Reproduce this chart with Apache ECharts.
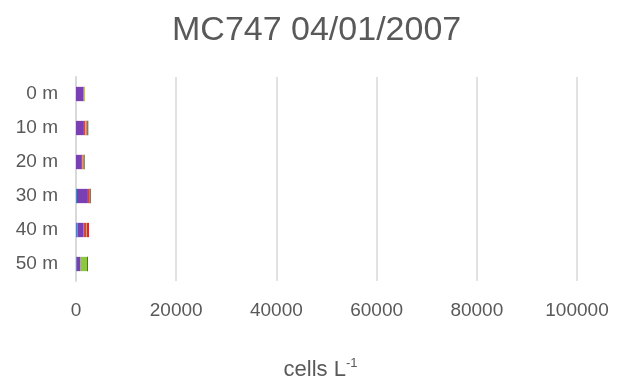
<!DOCTYPE html>
<html>
<head>
<meta charset="utf-8">
<script src="https://cdn.jsdelivr.net/npm/echarts@6/dist/echarts.min.js"></script>
<style>
  html, body { margin: 0; padding: 0; background: #fff; }
  #chart { width: 617px; height: 380px; }
</style>
</head>
<body>
<div id="chart"></div>
<script>
// Depths sampled at station MC747
const depths = ['0 m', '10 m', '20 m', '30 m', '40 m', '50 m'];

// Cell counts (cells per litre) for each group, stacked per depth
const groupA = [0, 0, 0, 200, 300, 100];
const groupB = [1400, 1400, 1000, 2000, 1200, 800];
const groupC = [150, 400, 300, 500, 600, 0];
const groupD = [150, 100, 200, 0, 100, 0];
const groupE = [100, 200, 0, 0, 0, 1300];
const groupF = [0, 200, 150, 200, 400, 200];
const groupG = [0, 150, 100, 100, 0, 0];

const xTicks = [0, 20000, 40000, 60000, 80000, 100000];

const groups = [
  { name: 'A', data: groupA, color: '#4F81C4' },
  { name: 'B', data: groupB, color: '#7A3FB3' },
  { name: 'C', data: groupC, color: '#D0473E' },
  { name: 'D', data: groupD, color: '#E0893A' },
  { name: 'E', data: groupE, color: '#8DC63F' },
  { name: 'F', data: groupF, color: '#C9303A' },
  { name: 'G', data: groupG, color: '#1F5A2A' }
];

const textFont = 'Liberation Sans';
const textColor = '#595959';

const chart = echarts.init(document.getElementById('chart'));
chart.setOption({
  animation: false,
  title: {
    text: 'MC747 04/01/2007',
    left: 167,
    top: 9,
    textStyle: { fontFamily: textFont, fontSize: 34, fontWeight: 'normal', color: textColor }
  },
  grid: { left: 76, right: 40, top: 77, bottom: 99, containLabel: false, outerBoundsMode: 'none' },
  xAxis: {
    type: 'value',
    min: xTicks[0],
    max: xTicks[xTicks.length - 1],
    interval: xTicks[1] - xTicks[0],
    axisLine: { show: false },
    axisTick: { show: false },
    splitLine: { lineStyle: { color: '#D9D9D9', width: 1.5 } },
    axisLabel: {
      fontFamily: textFont, fontSize: 19, color: textColor, margin: 20,
      formatter: v => String(v)
    },
    name: '{a|cells L}{b|-1}',
    nameLocation: 'middle',
    nameGap: 76,
    nameTextStyle: {
      padding: [0, 12, 0, 0],
      rich: {
        a: { fontFamily: textFont, fontSize: 22, color: textColor },
        b: { fontFamily: textFont, fontSize: 13, color: textColor, verticalAlign: 'top', padding: [0, 0, 12, 0] }
      }
    }
  },
  yAxis: {
    type: 'category',
    data: depths,
    inverse: true,
    axisLine: { show: true, lineStyle: { color: '#D9D9D9', width: 2 } },
    axisTick: { show: false },
    axisLabel: { fontFamily: textFont, fontSize: 19, color: textColor, margin: 18 }
  },
  series: groups.map(g => ({
    name: g.name,
    type: 'bar',
    stack: 'total',
    data: g.data,
    barWidth: '42%',
    itemStyle: { color: g.color }
  }))
});
</script>
</body>
</html>
